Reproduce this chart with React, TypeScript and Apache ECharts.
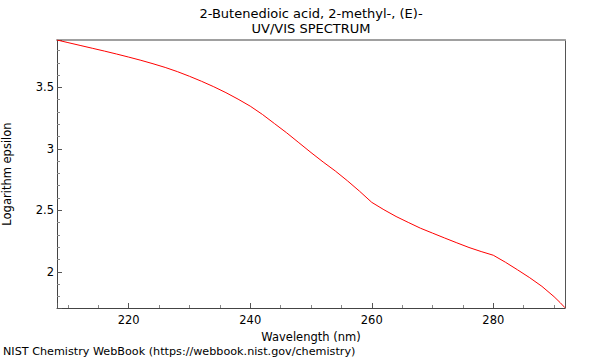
import React, { useEffect, useRef } from "react";
import * as echarts from "echarts";

const titleLines = ["2-Butenedioic acid, 2-methyl-, (E)-", "UV/VIS SPECTRUM"];
const xName = "Wavelength (nm)";
const yName = "Logarithm epsilon";
const footer = "NIST Chemistry WebBook (https://webbook.nist.gov/chemistry)";

const wavelengths = [
  208.2, 210, 212, 214, 216, 218, 220, 222, 224, 226, 228, 230, 232, 234, 236, 238, 240,
  242, 244, 246, 248, 250, 252, 254, 256, 258, 260, 262, 264, 266, 268, 270, 272, 274,
  276, 278, 280, 282, 284, 286, 288, 290, 291, 291.8,
];
const logEps = [
  3.885, 3.864, 3.841, 3.818, 3.795, 3.771, 3.746, 3.72, 3.692, 3.662, 3.628, 3.59, 3.549,
  3.505, 3.457, 3.404, 3.347, 3.28, 3.205, 3.13, 3.05, 2.97, 2.893, 2.82, 2.74, 2.655,
  2.565, 2.505, 2.45, 2.402, 2.355, 2.315, 2.275, 2.236, 2.198, 2.165, 2.135, 2.078, 2.016,
  1.952, 1.882, 1.798, 1.75, 1.708,
];

const xMin = 208.2;
const xMax = 291.8;
const yMin = 1.706;
const yMax = 3.885;

const FONT = "DejaVu Sans";

export default function App() {
  const ref = useRef<HTMLDivElement>(null);
  useEffect(() => {
    document.body.style.margin = "0";
    if (!ref.current) return;
    const chart = echarts.init(ref.current, null, { renderer: "svg" });
    const data = wavelengths.map((w, i) => [w, logEps[i]]);
    const isMultiple = (v: number, step: number) =>
      Math.abs(v / step - Math.round(v / step)) < 1e-6;
    chart.setOption({
      animation: false,
      textStyle: { fontFamily: FONT },
      title: [
        {
          text: titleLines[0],
          left: 311,
          top: 7,
          padding: 0,
          textAlign: "center",
          textStyle: { fontSize: 13, fontWeight: "normal", color: "#000", fontFamily: FONT },
        },
        {
          text: titleLines[1],
          left: 311,
          top: 22,
          padding: 0,
          textAlign: "center",
          textStyle: { fontSize: 13, fontWeight: "normal", color: "#000", fontFamily: FONT },
        },
      ],
      grid: {
        left: 57,
        right: 35,
        top: 40,
        bottom: 52,
        containLabel: false,
        outerBoundsMode: "none",
      },
      xAxis: [
        {
          type: "value",
          min: xMin,
          max: xMax,
          position: "bottom",
          name: xName,
          nameLocation: "middle",
          nameGap: 17,
          nameTextStyle: { fontSize: 11.5, color: "#000", fontFamily: FONT },
          axisLine: { show: true, lineStyle: { color: "#444", width: 1 } },
          axisTick: { show: true, inside: true, length: 5, lineStyle: { color: "#555" } },
          minorTick: { show: true, splitNumber: 4, length: 3, lineStyle: { color: "#888" } },
          splitLine: { show: false },
          axisLabel: {
            margin: 6,
            fontSize: 11.5,
            color: "#000",
            fontFamily: FONT,
            showMinLabel: false,
            showMaxLabel: false,
            formatter: (v: number) => (isMultiple(v, 20) ? String(v) : ""),
          },
        },
        {
          type: "value",
          min: xMin,
          max: xMax,
          position: "top",
          axisLine: { show: true, lineStyle: { color: "#a0a0a0", width: 2 } },
          axisTick: { show: false },
          axisLabel: { show: false },
          splitLine: { show: false },
        },
      ],
      yAxis: [
        {
          type: "value",
          min: yMin,
          max: yMax,
          position: "left",
          name: yName,
          nameLocation: "middle",
          nameGap: 44,
          nameTextStyle: { fontSize: 11.5, color: "#000", fontFamily: FONT },
          axisLine: { show: true, lineStyle: { color: "#444", width: 1 } },
          axisTick: { show: true, inside: true, length: 5, lineStyle: { color: "#555" } },
          minorTick: { show: true, splitNumber: 5, length: 3, lineStyle: { color: "#888" } },
          splitLine: { show: false },
          axisLabel: {
            margin: 3,
            fontSize: 11.5,
            color: "#000",
            fontFamily: FONT,
            showMinLabel: false,
            showMaxLabel: false,
            formatter: (v: number) => (isMultiple(v, 0.5) ? String(v) : ""),
          },
        },
        {
          type: "value",
          min: yMin,
          max: yMax,
          position: "right",
          axisLine: { show: true, lineStyle: { color: "#555", width: 1 } },
          axisTick: { show: false },
          axisLabel: { show: false },
          splitLine: { show: false },
        },
      ],
      graphic: [
        {
          type: "text",
          left: 3,
          top: 346,
          style: { text: footer, fontSize: 11.2, fill: "#000", fontFamily: FONT },
        },
      ],
      series: [
        {
          type: "line",
          xAxisIndex: 0,
          yAxisIndex: 0,
          data,
          showSymbol: false,
          symbol: "none",
          clip: true,
          lineStyle: { color: "#ff0000", width: 1 },
        },
      ],
    });
    return () => chart.dispose();
  }, []);
  return <div ref={ref} style={{ width: 600, height: 360 }} />;
}
